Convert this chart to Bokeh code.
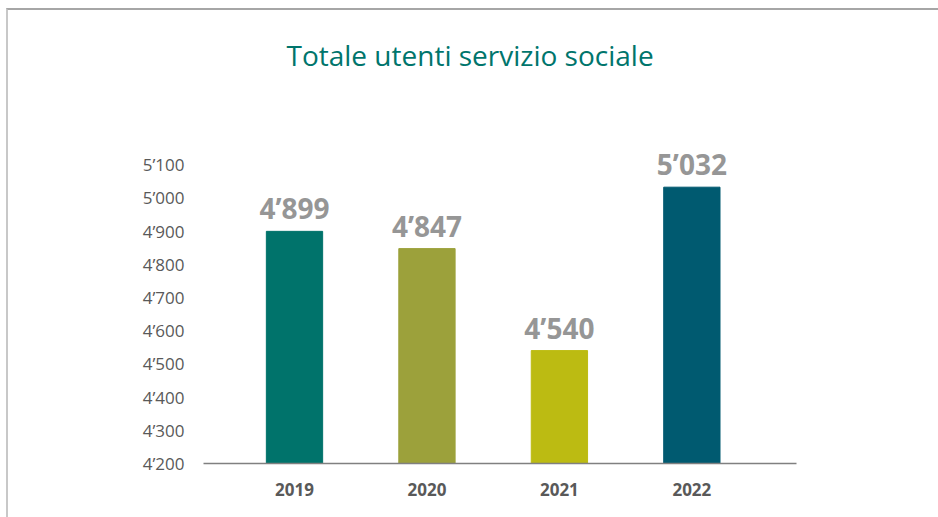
from bokeh.plotting import figure
from bokeh.models import Range1d, FixedTicker, ColumnDataSource, Title
from bokeh.core.properties import value
from bokeh.embed import file_html
from bokeh.resources import INLINE

years = ["2019", "2020", "2021", "2022"]
users = [4899, 4847, 4540, 5032]
bar_colors = ["#00736B", "#9CA13B", "#BCBB12", "#005A70"]
y_ticks = [4200, 4300, 4400, 4500, 4600, 4700, 4800, 4900, 5000, 5100]
y_tick_labels = ["4’200", "4’300", "4’400", "4’500", "4’600", "4’700", "4’800", "4’900", "5’000", "5’100"]
value_labels = ["4’899", "4’847", "4’540", "5’032"]

xs = list(range(len(years)))
src = ColumnDataSource(dict(x=xs, top=users, color=bar_colors, label=value_labels))

p = figure(
    output_backend="svg", toolbar_location=None,
    frame_width=593, frame_height=363,
    min_border_left=195, min_border_right=142, min_border_top=90, min_border_bottom=54,
    x_range=Range1d(-0.687, 3.79), y_range=Range1d(4200, 5293),
)
p.styles = {"margin-top": "8px", "margin-left": "6px",
            "border-top": "2px solid #a6a6a6", "border-left": "2px solid #c8c8c8"}
p.outline_line_color = None
p.background_fill_color = "white"
p.border_fill_color = "white"
p.grid.visible = False

p.vbar(x="x", top="top", bottom=4200, width=0.425, color="color", source=src)
p.text(x="x", y="top", text="label", source=src, text_align="center",
       text_baseline="alphabetic", y_offset=-23,
       text_font=value("Open Sans"), text_font_style="bold",
       text_font_size="28px", text_color="#969696")

# title
t = Title(text="Totale utenti servizio sociale", align="left", offset=83,
          vertical_align="top",
          text_font="Open Sans", text_font_style="normal",
          text_font_size="28px", text_color="#00756C", standoff=50)
p.add_layout(t, "above")

# y axis
ya = p.yaxis[0]
ya.ticker = FixedTicker(ticks=y_ticks)
ya.major_label_overrides = {t_: l for t_, l in zip(y_ticks, y_tick_labels)}
ya.axis_line_color = None
ya.major_tick_line_color = None
ya.minor_tick_line_color = None
ya.major_label_standoff = 13
ya.major_label_text_font = "Open Sans"
ya.major_label_text_font_size = "17px"
ya.major_label_text_color = "#595959"

# x axis
xa = p.xaxis[0]
xa.ticker = FixedTicker(ticks=xs)
xa.major_label_overrides = {i: y for i, y in zip(xs, years)}
xa.axis_line_color = "#808080"
xa.axis_line_width = 1.5
xa.major_tick_line_color = None
xa.minor_tick_line_color = None
xa.major_label_standoff = 13
xa.major_label_text_font = "Open Sans"
xa.major_label_text_font_style = "bold"
xa.major_label_text_font_size = "17px"
xa.major_label_text_color = "#595959"

open("out.html", "w").write(file_html(p, INLINE))
